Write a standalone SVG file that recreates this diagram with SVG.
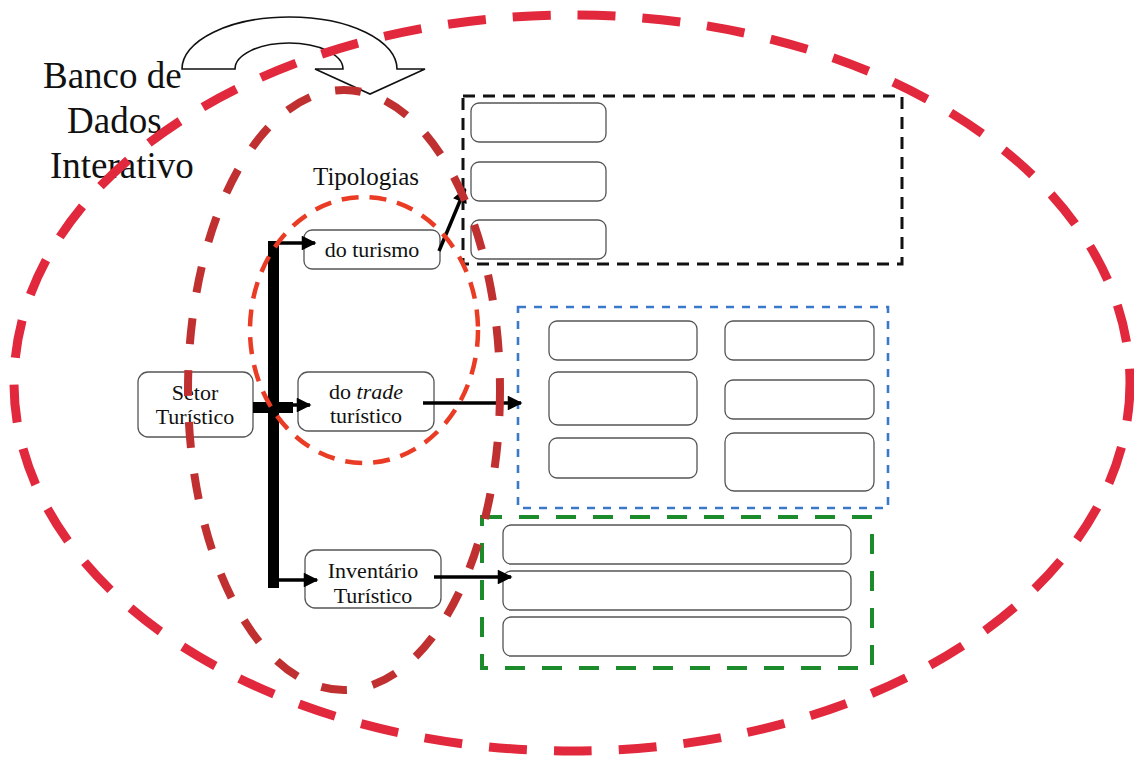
<svg xmlns="http://www.w3.org/2000/svg" width="1134" height="760" viewBox="0 0 1134 760">
  <defs>
    <marker id="head" viewBox="0 0 10 10" refX="9" refY="5" markerWidth="4.6" markerHeight="4.2" markerUnits="strokeWidth" orient="auto">
      <path d="M0,0 L10,5 L0,10 Z" fill="#000"/>
    </marker>
    <marker id="head-thin" viewBox="0 0 10 10" refX="9" refY="5" markerWidth="6" markerHeight="5.5" markerUnits="strokeWidth" orient="auto">
      <path d="M0,0 L10,5 L0,10 Z" fill="#000"/>
    </marker>
    <style>
      .box { fill: #fff; stroke: #555; stroke-width: 1.3; }
      .lbl { font-family: "Liberation Serif", "Times New Roman", serif; font-size: 22px; fill: #111; text-anchor: middle; }
      .big { font-family: "Liberation Serif", "Times New Roman", serif; font-size: 37px; fill: #111; }
      .conn { stroke: #000; stroke-width: 3.5; fill: none; marker-end: url(#head); }
      .frame { fill: none; }
    </style>
  </defs>
  <rect width="1134" height="760" fill="#fff"/>

  <!-- curved arrow over the title -->
  <g id="curved-arrow">
    <path d="M182,69 L235,69 A54,26 0 0 1 343,69 L315,69 L370,94 L425,69 L397,69 A107.5,52 0 0 0 182,69 Z" fill="#fff" stroke="#111" stroke-width="1.6" stroke-linejoin="miter"/>
  </g>

  <g id="title">
    <text class="big" x="43" y="88">Banco de</text>
    <text class="big" x="67" y="133">Dados</text>
    <text class="big" x="50" y="178">Interativo</text>
  </g>

  <g id="tipologias">
    <text x="313" y="185" font-family="Liberation Serif, Times New Roman, serif" font-size="25" fill="#111">Tipologias</text>
  </g>

  <!-- typology panel (black) -->
  <g id="panel-turismo">
    <rect class="frame" x="463" y="96" width="439" height="168" stroke="#111" stroke-width="3" stroke-dasharray="12 8"/>
    <rect class="box" x="471" y="103" width="135" height="39" rx="8"/>
    <rect class="box" x="471" y="162" width="135" height="39" rx="8"/>
    <rect class="box" x="471" y="220" width="135" height="39" rx="8"/>
  </g>

  <!-- trade panel (blue) -->
  <g id="panel-trade">
    <rect class="frame" x="518" y="307" width="370" height="201" stroke="#3b78c9" stroke-width="2.6" stroke-dasharray="8 8"/>
    <rect class="box" x="549" y="321" width="148" height="39" rx="8"/>
    <rect class="box" x="549" y="372" width="148" height="53" rx="9"/>
    <rect class="box" x="549" y="438" width="148" height="40" rx="8"/>
    <rect class="box" x="725" y="321" width="149" height="39" rx="8"/>
    <rect class="box" x="725" y="380" width="149" height="39" rx="8"/>
    <rect class="box" x="725" y="433" width="149" height="58" rx="9"/>
  </g>

  <!-- inventory panel (green) -->
  <g id="panel-inventario">
    <rect class="frame" x="482" y="517" width="390" height="151" stroke="#1b8b2c" stroke-width="4" stroke-dasharray="20 17"/>
    <rect class="box" x="503" y="525" width="348" height="39" rx="8"/>
    <rect class="box" x="503" y="571" width="348" height="39" rx="8"/>
    <rect class="box" x="503" y="617" width="348" height="39" rx="8"/>
  </g>

  <g id="setor">
    <rect class="box" x="138" y="372" width="115" height="65" rx="10"/>
    <text class="lbl" x="195" y="400">Setor</text>
    <text class="lbl" x="195" y="424">Turístico</text>
  </g>

  <g id="do-turismo">
    <rect class="box" x="304" y="230" width="136" height="39" rx="8"/>
    <text class="lbl" x="372" y="257">do turismo</text>
  </g>

  <g id="do-trade">
    <rect class="box" x="298" y="372" width="136" height="59" rx="10"/>
    <text class="lbl" x="366" y="399">do <tspan font-style="italic">trade</tspan></text>
    <text class="lbl" x="366" y="423">turístico</text>
  </g>

  <g id="inventario">
    <rect class="box" x="305" y="550" width="136" height="58" rx="10"/>
    <text class="lbl" x="373" y="578">Inventário</text>
    <text class="lbl" x="373" y="603">Turístico</text>
  </g>

  <g id="connectors">
    <!-- trunk from the sector node -->
    <rect x="268" y="241" width="11" height="347" fill="#000"/>
    <rect x="253" y="402" width="40" height="11" fill="#000"/>
    <line class="conn" x1="273" y1="243" x2="315" y2="243"/>
    <line class="conn" x1="279" y1="405" x2="310" y2="405"/>
    <line class="conn" x1="279" y1="580" x2="317" y2="580"/>
    <!-- typology outputs -->
    <line class="conn" x1="439" y1="251" x2="465" y2="189"/>
    <line class="conn" x1="423" y1="403" x2="521" y2="403" stroke-width="2.4" marker-end="url(#head-thin)"/>
    <line class="conn" x1="434" y1="577" x2="511" y2="577"/>
  </g>

  <!-- dashed scope boundaries -->
  <g id="scopes">
    <ellipse cx="572" cy="383" rx="558" ry="368" fill="none" stroke="#e2283c" stroke-width="9" stroke-dasharray="38 27"/>
    <ellipse cx="344" cy="390" rx="156" ry="300" fill="none" stroke="#c03030" stroke-width="8" stroke-dasharray="26 26"/>
    <ellipse cx="364" cy="330" rx="114" ry="133" fill="none" stroke="#ea3b24" stroke-width="4.5" stroke-dasharray="17 11"/>
  </g>
</svg>
